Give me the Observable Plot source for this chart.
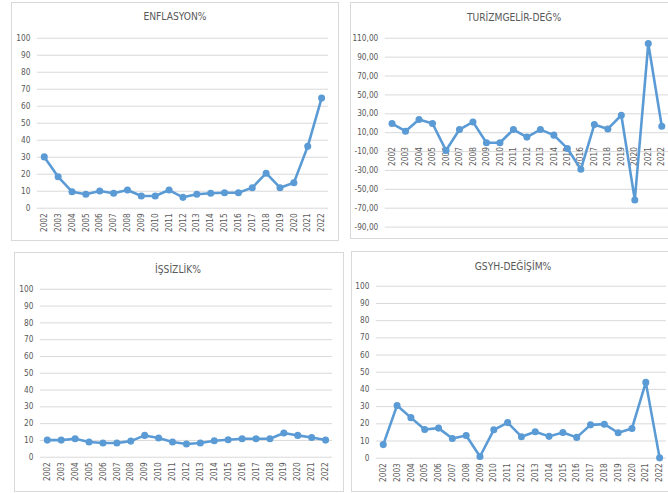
<!DOCTYPE html>
<html><head><meta charset="utf-8">
<script src="https://cdn.jsdelivr.net/npm/d3@7"></script>
<script src="https://cdn.jsdelivr.net/npm/@observablehq/plot@0.6"></script>
<style>
html,body{margin:0;padding:0;background:#fff;}
#root{position:relative;width:668px;height:493px;overflow:hidden;font-family:"DejaVu Sans Condensed","DejaVu Sans",sans-serif;}
.panel{position:absolute;box-sizing:border-box;border:1px solid #d9d9d9;background:#fff;}
.panel svg{position:absolute;left:-1px;top:-1px;overflow:visible;}
.title{position:absolute;white-space:nowrap;transform:translateX(-50%);font-size:10.2px;line-height:14px;color:#595959;}
</style></head><body><div id="root"></div>
<script>
const years = ["2002","2003","2004","2005","2006","2007","2008","2009","2010","2011","2012","2013","2014","2015","2016","2017","2018","2019","2020","2021","2022"];
const enflasyon = [30.2,18.5,9.7,8.2,10.1,8.8,10.7,7.2,7.2,10.7,6.4,8.2,8.8,9.1,9.1,12.1,20.6,12.1,15.0,36.4,64.8];
const turizm = [19.7,11.6,23.9,19.7,-8.8,13.3,21.4,-0.7,-0.7,13.3,5.3,13.3,7.4,-6.7,-28.8,18.6,14.0,28.5,-61.2,104.4,16.9];
const issizlik = [10.2,10.2,11.0,9.1,8.5,8.5,9.6,13.0,11.4,9.1,7.9,8.5,9.8,10.4,11.0,11.0,11.0,14.4,13.0,11.8,10.2];
const gsyh = [7.9,30.7,23.6,16.7,17.5,11.5,13.2,1.0,16.5,20.7,12.5,15.4,12.7,15.0,12.1,19.4,19.8,14.8,17.3,44.1,0.2];
const ticks100 = [0,10,20,30,40,50,60,70,80,90,100];
const ticksTurizm = [-90,-70,-50,-30,-10,10,30,50,70,90,110];
const titles = ["ENFLASYON%","TURİZMGELİR-DEĞ%","İŞSİZLİK%","GSYH-DEĞİŞİM%"];

const lineColor = "#5b9bd5";
const panels = [
  {title: titles[0], values: enflasyon, ticks: ticks100, domain: [0,100], fmt: d => String(d),
   left: 11, top: 2, width: 328, height: 239, mt: 36, mb: 32, ml: 26, mr: 9, tx: 175, ty: 17},
  {title: titles[1], values: turizm, ticks: ticksTurizm, domain: [-90,110], fmt: d => d.toFixed(2).replace(".", ","),
   left: 350, top: 2, width: 326, height: 237, mt: 36, mb: 11, ml: 35, mr: 6, tx: 514, ty: 18},
  {title: titles[2], values: issizlik, ticks: ticks100, domain: [0,100], fmt: d => String(d),
   left: 14, top: 252, width: 330, height: 240, mt: 37, mb: 34, ml: 26, mr: 10, tx: 178, ty: 270},
  {title: titles[3], values: gsyh, ticks: ticks100, domain: [0,100], fmt: d => String(d),
   left: 351, top: 251, width: 323, height: 241, mt: 35, mb: 33, ml: 25, mr: 6, tx: 513, ty: 267}
];

const root = document.getElementById("root");
for (const p of panels) {
  const data = years.map((y, i) => ({year: y, value: p.values[i]}));
  const div = document.createElement("div");
  div.className = "panel";
  Object.assign(div.style, {left: p.left + "px", top: p.top + "px", width: p.width + "px", height: p.height + "px"});
  const chart = Plot.plot({
    width: p.width, height: p.height,
    marginTop: p.mt, marginBottom: p.mb, marginLeft: p.ml, marginRight: p.mr,
    style: {fontFamily: '"DejaVu Sans Condensed","DejaVu Sans",sans-serif', fontSize: "8.3px", color: "#595959", background: "transparent", overflow: "visible"},
    x: {type: "point", domain: years, padding: 0.5, round: false, axis: null},
    y: {domain: p.domain, nice: false, axis: null},
    marks: [
      Plot.gridY(p.ticks, {stroke: "#d9d9d9", strokeOpacity: 1, strokeWidth: 1}),
      Plot.axisY(p.ticks, {tickSize: 0, tickPadding: 7, tickFormat: p.fmt, label: null, fill: "#595959", fontSize: 8.3}),
      Plot.text(data, {x: "year", y: () => 0, text: "year", rotate: -90, textAnchor: "end", dy: 5, fill: "#595959", fontSize: 8.3}),
      Plot.line(data, {x: "year", y: "value", stroke: lineColor, strokeWidth: 2.6, strokeLinejoin: "round"}),
      Plot.dot(data, {x: "year", y: "value", r: 2.8, fill: lineColor, stroke: lineColor})
    ]
  });
  div.appendChild(chart);
  const t = document.createElement("div");
  t.className = "title";
  t.textContent = p.title;
  Object.assign(t.style, {left: (p.tx - p.left - 1) + "px", top: (p.ty - p.top - 8) + "px"});
  div.appendChild(t);
  root.appendChild(div);
}
</script>
</body></html>
